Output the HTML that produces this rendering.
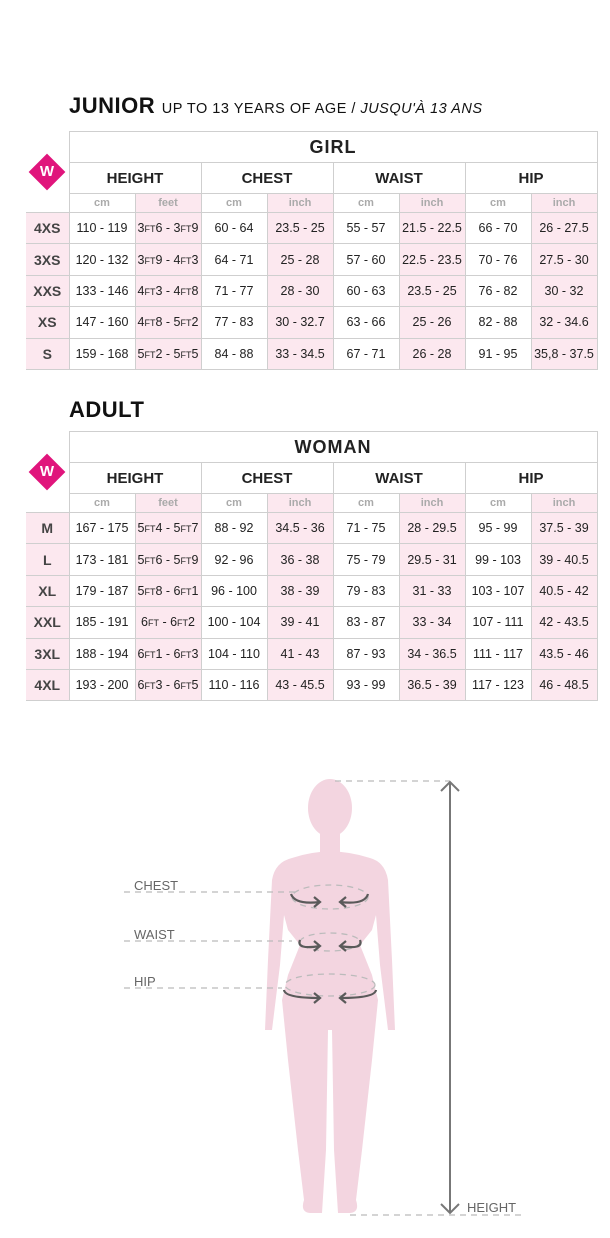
<!DOCTYPE html>
<html><head><meta charset="utf-8"><style>
body{margin:0;width:610px;height:1238px;background:#fff;position:relative;font-family:"Liberation Sans",sans-serif;overflow:hidden}
.t{position:absolute;left:26px;border-collapse:collapse;table-layout:fixed;z-index:1}
.t td{border:1px solid #cfcfcf;text-align:center;padding:0;color:#222;font-size:12.5px;white-space:nowrap;overflow:hidden}
.t td.e{border:none;background:transparent}
.t td.g{font-weight:bold;font-size:18px;letter-spacing:1px;height:30px}
.t td.h{font-weight:bold;font-size:15px;height:30px}
.t td.u{color:#aaa;font-size:11px;font-weight:bold;height:18px}
.t td.p{background:#fce8ef}
.t td.s{background:#fce8ef;font-weight:bold;font-size:14px;color:#444;border-left:none}
.t tr.r td{height:30.4px}
.ft{font-size:9px}
.ttl{position:absolute;left:69px;font-weight:bold;font-size:22px;letter-spacing:0.5px;color:#111}
.w{position:absolute;width:26px;height:26px;background:#e0157c;transform:rotate(45deg);z-index:2}
.wl{position:absolute;color:#fff;font-weight:bold;font-size:15px;width:26px;text-align:center;z-index:3}
</style></head><body>
<div class="ttl" style="top:93px">JUNIOR <span style="font-size:14.5px;font-weight:normal">UP TO 13 YEARS OF AGE / <i>JUSQU'À 13 ANS</i></span></div>
<div class="w" style="left:34px;top:159px"></div><div class="wl" style="left:34px;top:163px">W</div>
<table class="t" style="top:131px">
<colgroup><col style="width:43px"><col style="width:66px"><col style="width:66px"><col style="width:66px"><col style="width:66px"><col style="width:66px"><col style="width:66px"><col style="width:66px"><col style="width:66px"></colgroup>
<tr><td class="e"></td><td class="g" colspan="8">GIRL</td></tr>
<tr><td class="e"></td><td class="h" colspan="2">HEIGHT</td><td class="h" colspan="2">CHEST</td><td class="h" colspan="2">WAIST</td><td class="h" colspan="2">HIP</td></tr>
<tr><td class="e"></td><td class="u">cm</td><td class="u p">feet</td><td class="u">cm</td><td class="u p">inch</td><td class="u">cm</td><td class="u p">inch</td><td class="u">cm</td><td class="u p">inch</td></tr>
<tr class="r"><td class="s">4XS</td><td>110 - 119</td><td class="p">3<span class="ft">FT</span>6 - 3<span class="ft">FT</span>9</td><td>60 - 64</td><td class="p">23.5 - 25</td><td>55 - 57</td><td class="p">21.5 - 22.5</td><td>66 - 70</td><td class="p">26 - 27.5</td></tr>
<tr class="r"><td class="s">3XS</td><td>120 - 132</td><td class="p">3<span class="ft">FT</span>9 - 4<span class="ft">FT</span>3</td><td>64 - 71</td><td class="p">25 - 28</td><td>57 - 60</td><td class="p">22.5 - 23.5</td><td>70 - 76</td><td class="p">27.5 - 30</td></tr>
<tr class="r"><td class="s">XXS</td><td>133 - 146</td><td class="p">4<span class="ft">FT</span>3 - 4<span class="ft">FT</span>8</td><td>71 - 77</td><td class="p">28 - 30</td><td>60 - 63</td><td class="p">23.5 - 25</td><td>76 - 82</td><td class="p">30 - 32</td></tr>
<tr class="r"><td class="s">XS</td><td>147 - 160</td><td class="p">4<span class="ft">FT</span>8 - 5<span class="ft">FT</span>2</td><td>77 - 83</td><td class="p">30 - 32.7</td><td>63 - 66</td><td class="p">25 - 26</td><td>82 - 88</td><td class="p">32 - 34.6</td></tr>
<tr class="r"><td class="s">S</td><td>159 - 168</td><td class="p">5<span class="ft">FT</span>2 - 5<span class="ft">FT</span>5</td><td>84 - 88</td><td class="p">33 - 34.5</td><td>67 - 71</td><td class="p">26 - 28</td><td>91 - 95</td><td class="p">35,8 - 37.5</td></tr>
</table>

<div class="ttl" style="top:397px">ADULT</div>
<div class="w" style="left:34px;top:459px"></div><div class="wl" style="left:34px;top:463px">W</div>
<table class="t" style="top:431px">
<colgroup><col style="width:43px"><col style="width:66px"><col style="width:66px"><col style="width:66px"><col style="width:66px"><col style="width:66px"><col style="width:66px"><col style="width:66px"><col style="width:66px"></colgroup>
<tr><td class="e"></td><td class="g" colspan="8">WOMAN</td></tr>
<tr><td class="e"></td><td class="h" colspan="2">HEIGHT</td><td class="h" colspan="2">CHEST</td><td class="h" colspan="2">WAIST</td><td class="h" colspan="2">HIP</td></tr>
<tr><td class="e"></td><td class="u">cm</td><td class="u p">feet</td><td class="u">cm</td><td class="u p">inch</td><td class="u">cm</td><td class="u p">inch</td><td class="u">cm</td><td class="u p">inch</td></tr>
<tr class="r"><td class="s">M</td><td>167 - 175</td><td class="p">5<span class="ft">FT</span>4 - 5<span class="ft">FT</span>7</td><td>88 - 92</td><td class="p">34.5 - 36</td><td>71 - 75</td><td class="p">28 - 29.5</td><td>95 - 99</td><td class="p">37.5 - 39</td></tr>
<tr class="r"><td class="s">L</td><td>173 - 181</td><td class="p">5<span class="ft">FT</span>6 - 5<span class="ft">FT</span>9</td><td>92 - 96</td><td class="p">36 - 38</td><td>75 - 79</td><td class="p">29.5 - 31</td><td>99 - 103</td><td class="p">39 - 40.5</td></tr>
<tr class="r"><td class="s">XL</td><td>179 - 187</td><td class="p">5<span class="ft">FT</span>8 - 6<span class="ft">FT</span>1</td><td>96 - 100</td><td class="p">38 - 39</td><td>79 - 83</td><td class="p">31 - 33</td><td>103 - 107</td><td class="p">40.5 - 42</td></tr>
<tr class="r"><td class="s">XXL</td><td>185 - 191</td><td class="p">6<span class="ft">FT</span> - 6<span class="ft">FT</span>2</td><td>100 - 104</td><td class="p">39 - 41</td><td>83 - 87</td><td class="p">33 - 34</td><td>107 - 111</td><td class="p">42 - 43.5</td></tr>
<tr class="r"><td class="s">3XL</td><td>188 - 194</td><td class="p">6<span class="ft">FT</span>1 - 6<span class="ft">FT</span>3</td><td>104 - 110</td><td class="p">41 - 43</td><td>87 - 93</td><td class="p">34 - 36.5</td><td>111 - 117</td><td class="p">43.5 - 46</td></tr>
<tr class="r"><td class="s">4XL</td><td>193 - 200</td><td class="p">6<span class="ft">FT</span>3 - 6<span class="ft">FT</span>5</td><td>110 - 116</td><td class="p">43 - 45.5</td><td>93 - 99</td><td class="p">36.5 - 39</td><td>117 - 123</td><td class="p">46 - 48.5</td></tr>
</table>

<svg style="position:absolute;left:0;top:0" width="610" height="1238">
<g fill="#f3d5e0">
<ellipse cx="330" cy="808" rx="22" ry="29"/>
<rect x="320" y="830" width="20" height="25"/>
<path d="M292 858 Q330 845 370 858 Q385 862 388 880 L392 960 L395 1030 L388 1030 L380 965 L376 915 L372 930 L360 945 L372 975 L378 1000 L372 1060 L362 1150 L356 1200 Q360 1212 350 1213 L338 1213 L334 1150 L332 1030 L328 1030 L326 1150 L322 1213 L310 1213 Q300 1212 304 1200 L298 1150 L288 1060 L282 1000 L288 975 L300 945 L288 930 L284 915 L280 965 L272 1030 L265 1030 L268 960 L272 880 Q275 862 292 858Z"/>
</g>
<g stroke="#bbb" stroke-width="1.3" stroke-dasharray="6,5" fill="none">
<line x1="124" y1="892" x2="300" y2="892"/>
<line x1="124" y1="941" x2="292" y2="941"/>
<line x1="124" y1="988" x2="282" y2="988"/>
<line x1="335" y1="781" x2="450" y2="781"/>
<line x1="350" y1="1215" x2="522" y2="1215"/>
<ellipse cx="330" cy="897" rx="38" ry="12"/>
<ellipse cx="330" cy="942" rx="30" ry="9"/>
<ellipse cx="330" cy="985" rx="45" ry="11"/>
</g>
<g stroke="#5a5a5a" stroke-width="2.2" fill="none">
<path d="M291 894 Q295 905 320 902 M368 894 Q365 905 340 902"/>
<path d="M314 897 l6 5 l-6 5 M346 897 l-6 5 l6 5"/>
<path d="M300 940 Q296 950 320 946 M360 940 Q364 950 340 946"/>
<path d="M314 941 l6 5 l-6 5 M346 941 l-6 5 l6 5"/>
<path d="M284 990 Q285 998 320 998 M376 990 Q375 998 340 998"/>
<path d="M314 993 l6 5 l-6 5 M346 993 l-6 5 l6 5"/>
</g>
<g stroke="#777" stroke-width="2" fill="none">
<line x1="450" y1="782" x2="450" y2="1213"/>
<path d="M441 791 L450 782 L459 791 M441 1204 L450 1213 L459 1204"/>
</g>
<g fill="#666" font-family="Liberation Sans, sans-serif" font-size="13">
<text x="134" y="890">CHEST</text>
<text x="134" y="939">WAIST</text>
<text x="134" y="986">HIP</text>
<text x="467" y="1212">HEIGHT</text>
</g>
</svg>
</body></html>
